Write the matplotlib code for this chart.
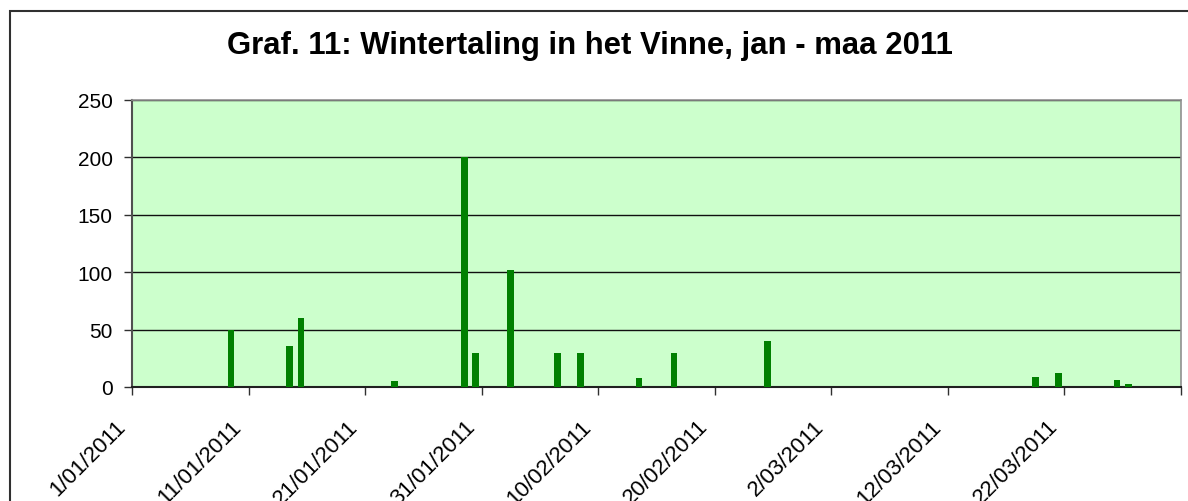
import datetime as dt
import matplotlib
matplotlib.use("Agg")
import matplotlib.pyplot as plt
import matplotlib.transforms as mtransforms
from matplotlib.patches import Rectangle

plt.rcParams['font.family'] = ['Liberation Sans', 'DejaVu Sans']

# counts of Wintertaling per survey day (jan - maa 2011)
dates = ['2011-01-09', '2011-01-14', '2011-01-15', '2011-01-23', '2011-01-29',
         '2011-01-30', '2011-02-02', '2011-02-06', '2011-02-08', '2011-02-13',
         '2011-02-16', '2011-02-24', '2011-03-19', '2011-03-21', '2011-03-26',
         '2011-03-27']
counts = [50, 36, 60, 5, 200, 30, 102, 30, 30, 8, 30, 40, 9, 12, 6, 3]
yticks = [0, 50, 100, 150, 200, 250]
title = 'Graf. 11: Wintertaling in het Vinne, jan - maa 2011'

days = [dt.datetime.strptime(d, '%Y-%m-%d') + dt.timedelta(hours=12) for d in dates]
start = dt.datetime(2011, 1, 1)
end = dt.datetime(2011, 4, 1)
ticks = [start + dt.timedelta(days=10 * i) for i in range(10)]
tick_labels = ['{}/{:02d}/{}'.format(t.day, t.month, t.year) for t in ticks[:-1]] + ['']

fig = plt.figure(figsize=(11.88, 5.02), dpi=100)
fig.patches.append(Rectangle((10 / 1188, -0.1), 1.2, 1 - 12 / 502 + 0.1,
                             transform=fig.transFigure, fill=False,
                             edgecolor='#303030', lw=1.5))
ax = fig.add_axes([132 / 1188, 1 - 388 / 502, (1181 - 132) / 1188, (388 - 101) / 502])
ax.set_facecolor('#CCFFCC')

ax.bar(days, counts, width=0.58, color='#008000', zorder=3)

ax.set_xlim(start, end)
ax.set_ylim(0, 250)
ax.set_yticks(yticks)
ax.set_xticks(ticks)
ax.set_xticklabels(tick_labels, rotation=45, ha='right', va='center',
                   rotation_mode='anchor')
ax.yaxis.grid(True, color='#101010', lw=1.0)
ax.set_axisbelow(True)

for side in ['top', 'right']:
    ax.spines[side].set_color('#909090')
    ax.spines[side].set_linewidth(1.2)
ax.spines['left'].set_color('#505050')
ax.spines['left'].set_linewidth(1.5)
ax.spines['bottom'].set_color('#202020')
ax.spines['bottom'].set_linewidth(1.5)

ax.tick_params(axis='y', direction='out', length=6, width=1, pad=8,
               labelsize=15, colors='#303030', labelcolor='black')
ax.tick_params(axis='x', direction='out', length=6, width=1, pad=22,
               labelsize=16, colors='#303030', labelcolor='black')

# nudge the slanted date labels a bit to the left
shift = mtransforms.ScaledTranslation(-10 / 100, 3 / 100, fig.dpi_scale_trans)
for lab in ax.get_xticklabels():
    lab.set_transform(lab.get_transform() + shift)

fig.text(590 / 1188, 1 - 46 / 502, title, ha='center', va='center',
         fontsize=22.4, fontweight='bold')

fig.savefig('out.png', dpi=100)
